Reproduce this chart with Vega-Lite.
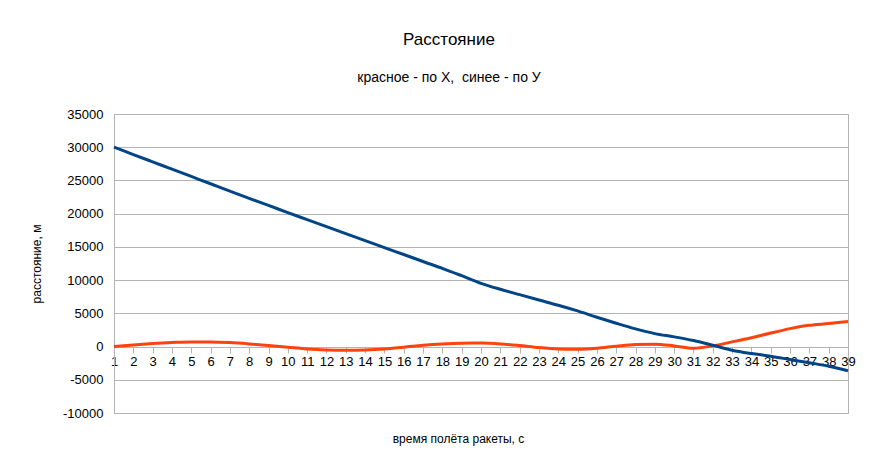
{
  "$schema": "https://vega.github.io/schema/vega-lite/v6.json",
  "width": 734,
  "height": 299,
  "autosize": {"type": "none"},
  "padding": {"left": 114, "top": 114, "right": 37, "bottom": 53},
  "background": "white",
  "config": {
    "font": "Liberation Sans",
    "view": {"stroke": "#b3b3b3", "strokeWidth": 1},
    "axis": {
      "labelFont": "Liberation Sans",
      "titleFont": "Liberation Sans",
      "labelColor": "black",
      "titleColor": "black",
      "labelFontSize": 13,
      "titleFontSize": 12,
      "titleFontWeight": "normal",
      "domainColor": "#b3b3b3",
      "tickColor": "#b3b3b3",
      "gridColor": "#b3b3b3"
    }
  },
  "title": {
    "text": "Расстояние",
    "subtitle": "красное - по Х, \u00a0синее - по У",
    "anchor": "middle",
    "frame": "group",
    "dx": -32,
    "offset": 22,
    "font": "Liberation Sans",
    "fontSize": 17,
    "fontWeight": "normal",
    "color": "black",
    "subtitleFont": "Liberation Sans",
    "subtitleFontSize": 14,
    "subtitleColor": "black",
    "subtitlePadding": 22
  },
  "data": {
    "values": [
      {"t": 1, "s": "X", "v": 0}, {"t": 2, "s": "X", "v": 250}, {"t": 3, "s": "X", "v": 450},
      {"t": 4, "s": "X", "v": 600}, {"t": 5, "s": "X", "v": 700}, {"t": 6, "s": "X", "v": 700},
      {"t": 7, "s": "X", "v": 600}, {"t": 8, "s": "X", "v": 400}, {"t": 9, "s": "X", "v": 150},
      {"t": 10, "s": "X", "v": -100}, {"t": 11, "s": "X", "v": -350}, {"t": 12, "s": "X", "v": -500},
      {"t": 13, "s": "X", "v": -550}, {"t": 14, "s": "X", "v": -500}, {"t": 15, "s": "X", "v": -350},
      {"t": 16, "s": "X", "v": -100}, {"t": 17, "s": "X", "v": 200}, {"t": 18, "s": "X", "v": 400},
      {"t": 19, "s": "X", "v": 500}, {"t": 20, "s": "X", "v": 520}, {"t": 21, "s": "X", "v": 400},
      {"t": 22, "s": "X", "v": 150}, {"t": 23, "s": "X", "v": -150}, {"t": 24, "s": "X", "v": -350},
      {"t": 25, "s": "X", "v": -400}, {"t": 26, "s": "X", "v": -250}, {"t": 27, "s": "X", "v": 50},
      {"t": 28, "s": "X", "v": 300}, {"t": 29, "s": "X", "v": 350}, {"t": 30, "s": "X", "v": 100},
      {"t": 31, "s": "X", "v": -250}, {"t": 32, "s": "X", "v": 100}, {"t": 33, "s": "X", "v": 700},
      {"t": 34, "s": "X", "v": 1330}, {"t": 35, "s": "X", "v": 2040}, {"t": 36, "s": "X", "v": 2700},
      {"t": 37, "s": "X", "v": 3200}, {"t": 38, "s": "X", "v": 3470}, {"t": 39, "s": "X", "v": 3780},
      {"t": 1, "s": "Y", "v": 30000}, {"t": 2, "s": "Y", "v": 28900}, {"t": 3, "s": "Y", "v": 27800},
      {"t": 4, "s": "Y", "v": 26700}, {"t": 5, "s": "Y", "v": 25600}, {"t": 6, "s": "Y", "v": 24500},
      {"t": 7, "s": "Y", "v": 23400}, {"t": 8, "s": "Y", "v": 22300}, {"t": 9, "s": "Y", "v": 21250},
      {"t": 10, "s": "Y", "v": 20150}, {"t": 11, "s": "Y", "v": 19100}, {"t": 12, "s": "Y", "v": 18050},
      {"t": 13, "s": "Y", "v": 17000}, {"t": 14, "s": "Y", "v": 15950}, {"t": 15, "s": "Y", "v": 14900},
      {"t": 16, "s": "Y", "v": 13850}, {"t": 17, "s": "Y", "v": 12800}, {"t": 18, "s": "Y", "v": 11770},
      {"t": 19, "s": "Y", "v": 10660}, {"t": 20, "s": "Y", "v": 9520}, {"t": 21, "s": "Y", "v": 8620},
      {"t": 22, "s": "Y", "v": 7810}, {"t": 23, "s": "Y", "v": 7010}, {"t": 24, "s": "Y", "v": 6220},
      {"t": 25, "s": "Y", "v": 5360}, {"t": 26, "s": "Y", "v": 4410}, {"t": 27, "s": "Y", "v": 3510},
      {"t": 28, "s": "Y", "v": 2660}, {"t": 29, "s": "Y", "v": 1950}, {"t": 30, "s": "Y", "v": 1460},
      {"t": 31, "s": "Y", "v": 900}, {"t": 32, "s": "Y", "v": 200}, {"t": 33, "s": "Y", "v": -550},
      {"t": 34, "s": "Y", "v": -1050}, {"t": 35, "s": "Y", "v": -1450}, {"t": 36, "s": "Y", "v": -1950},
      {"t": 37, "s": "Y", "v": -2450}, {"t": 38, "s": "Y", "v": -2950}, {"t": 39, "s": "Y", "v": -3650}
    ]
  },
  "mark": {"type": "line", "strokeWidth": 3, "interpolate": "monotone"},
  "encoding": {
    "x": {
      "field": "t",
      "type": "ordinal",
      "scale": {"type": "point", "padding": 0},
      "title": "время полёта ракеты, с",
      "axis": {
        "labelAngle": 0,
        "grid": false,
        "offset": -66,
        "tickSize": 6,
        "labelPadding": 2,
        "titleX": 344,
        "titleY": 91,
        "titleBaseline": "middle"
      }
    },
    "y": {
      "field": "v",
      "type": "quantitative",
      "scale": {"domain": [-10000, 35000], "nice": false, "zero": false},
      "title": "расстояние, м",
      "axis": {
        "values": [-10000, -5000, 0, 5000, 10000, 15000, 20000, 25000, 30000, 35000],
        "format": "d",
        "labelExpr": "replace(datum.label, '−', '-')",
        "ticks": false,
        "domain": true,
        "labelPadding": 11,
        "titleAngle": 270,
        "titleX": -78,
        "titleY": 149.5,
        "titleAlign": "center",
        "titleBaseline": "middle"
      }
    },
    "color": {
      "field": "s",
      "type": "nominal",
      "scale": {"domain": ["X", "Y"], "range": ["#ff420e", "#004586"]},
      "legend": null
    },
    "order": {"field": "t", "type": "quantitative"}
  }
}
